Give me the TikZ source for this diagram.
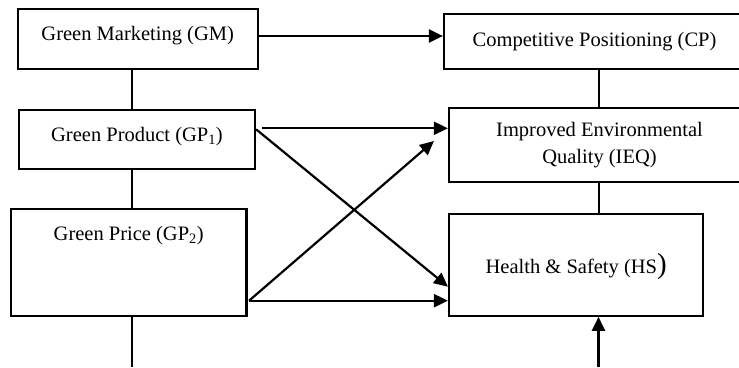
\documentclass[tikz,border=0pt]{standalone}
\usepackage{fontspec}
\setmainfont{Liberation Serif}
\usetikzlibrary{arrows.meta}

\begin{document}
\begin{tikzpicture}[x=1pt,y=-1pt,line width=2.2pt,
  box/.style={draw,rectangle,inner sep=0pt,font=\fontsize{20.5}{26.7}\selectfont},
  arr/.style={-{Triangle[length=14pt,width=13pt]}}]
\useasboundingbox (0,0) rectangle (739,367);
\clip (0,0) rectangle (739,367);
% left column
\node[box,minimum width=240pt,minimum height=60pt,text height=14pt,text depth=11pt] (GM) at (137.7,39.3) {Green Marketing (GM)};
\node[box,minimum width=236pt,minimum height=59.3pt,text height=14pt,text depth=10pt] (GP1) at (137,139.7) {Green Product (GP\textsubscript{1})};
\node[box,minimum width=235.5pt,minimum height=106.7pt,text height=14pt,text depth=58.8pt] (GP2) at (128.7,262.4) {Green Price (GP\textsubscript{2})};
% right column
\node[box,minimum width=301pt,minimum height=55.3pt] (CP) at (594.5,41.7) {Competitive Positioning (CP)};
\node[box,minimum width=301pt,minimum height=73.4pt,align=center] (IEQ) at (599.5,145) {Improved Environmental\\Quality (IEQ)};
\node[box,minimum width=254.3pt,minimum height=101.4pt,text height=18pt,text depth=2pt] (HS) at (576.2,265) {Health \& Safety (HS{\fontsize{29}{29}\selectfont)}};
% spines
\coordinate (lspine) at (132.3,0);
\coordinate (rspine) at (599.3,0);
\coordinate (lout) at (132,367);
\coordinate (rin) at (598.5,367);
\draw (GM.south -| lspine) -- (GP1.north -| lspine);
\draw (GP1.south -| lspine) -- (GP2.north -| lspine);
\draw (GP2.south -| lout) -- (lout);
\draw (CP.south -| rspine) -- (IEQ.north -| rspine);
\draw (IEQ.south -| rspine) -- (HS.north -| rspine);
\draw[arr] (rin) -- (HS.south -| rin);
% arrows
\draw[arr] ([yshift=3.3pt]GM.east) -- ([yshift=3.3pt]GM.east -| CP.west);
\draw[arr] ([xshift=6pt,yshift=11.4pt]GP1.east) -- ([yshift=11.4pt]GP1.east -| IEQ.west);
\draw[arr] ([yshift=10.4pt]GP1.east) -- ([yshift=-21.7pt]HS.west);
\draw[arr] ([xshift=1.5pt,yshift=-38.3pt]GP2.east) -- ([xshift=-14pt,yshift=4pt]IEQ.west);
\draw[arr] ([xshift=1.5pt,yshift=-38.3pt]GP2.east) -- ([yshift=-38.3pt]GP2.east -| HS.west);
\end{tikzpicture}
\end{document}
